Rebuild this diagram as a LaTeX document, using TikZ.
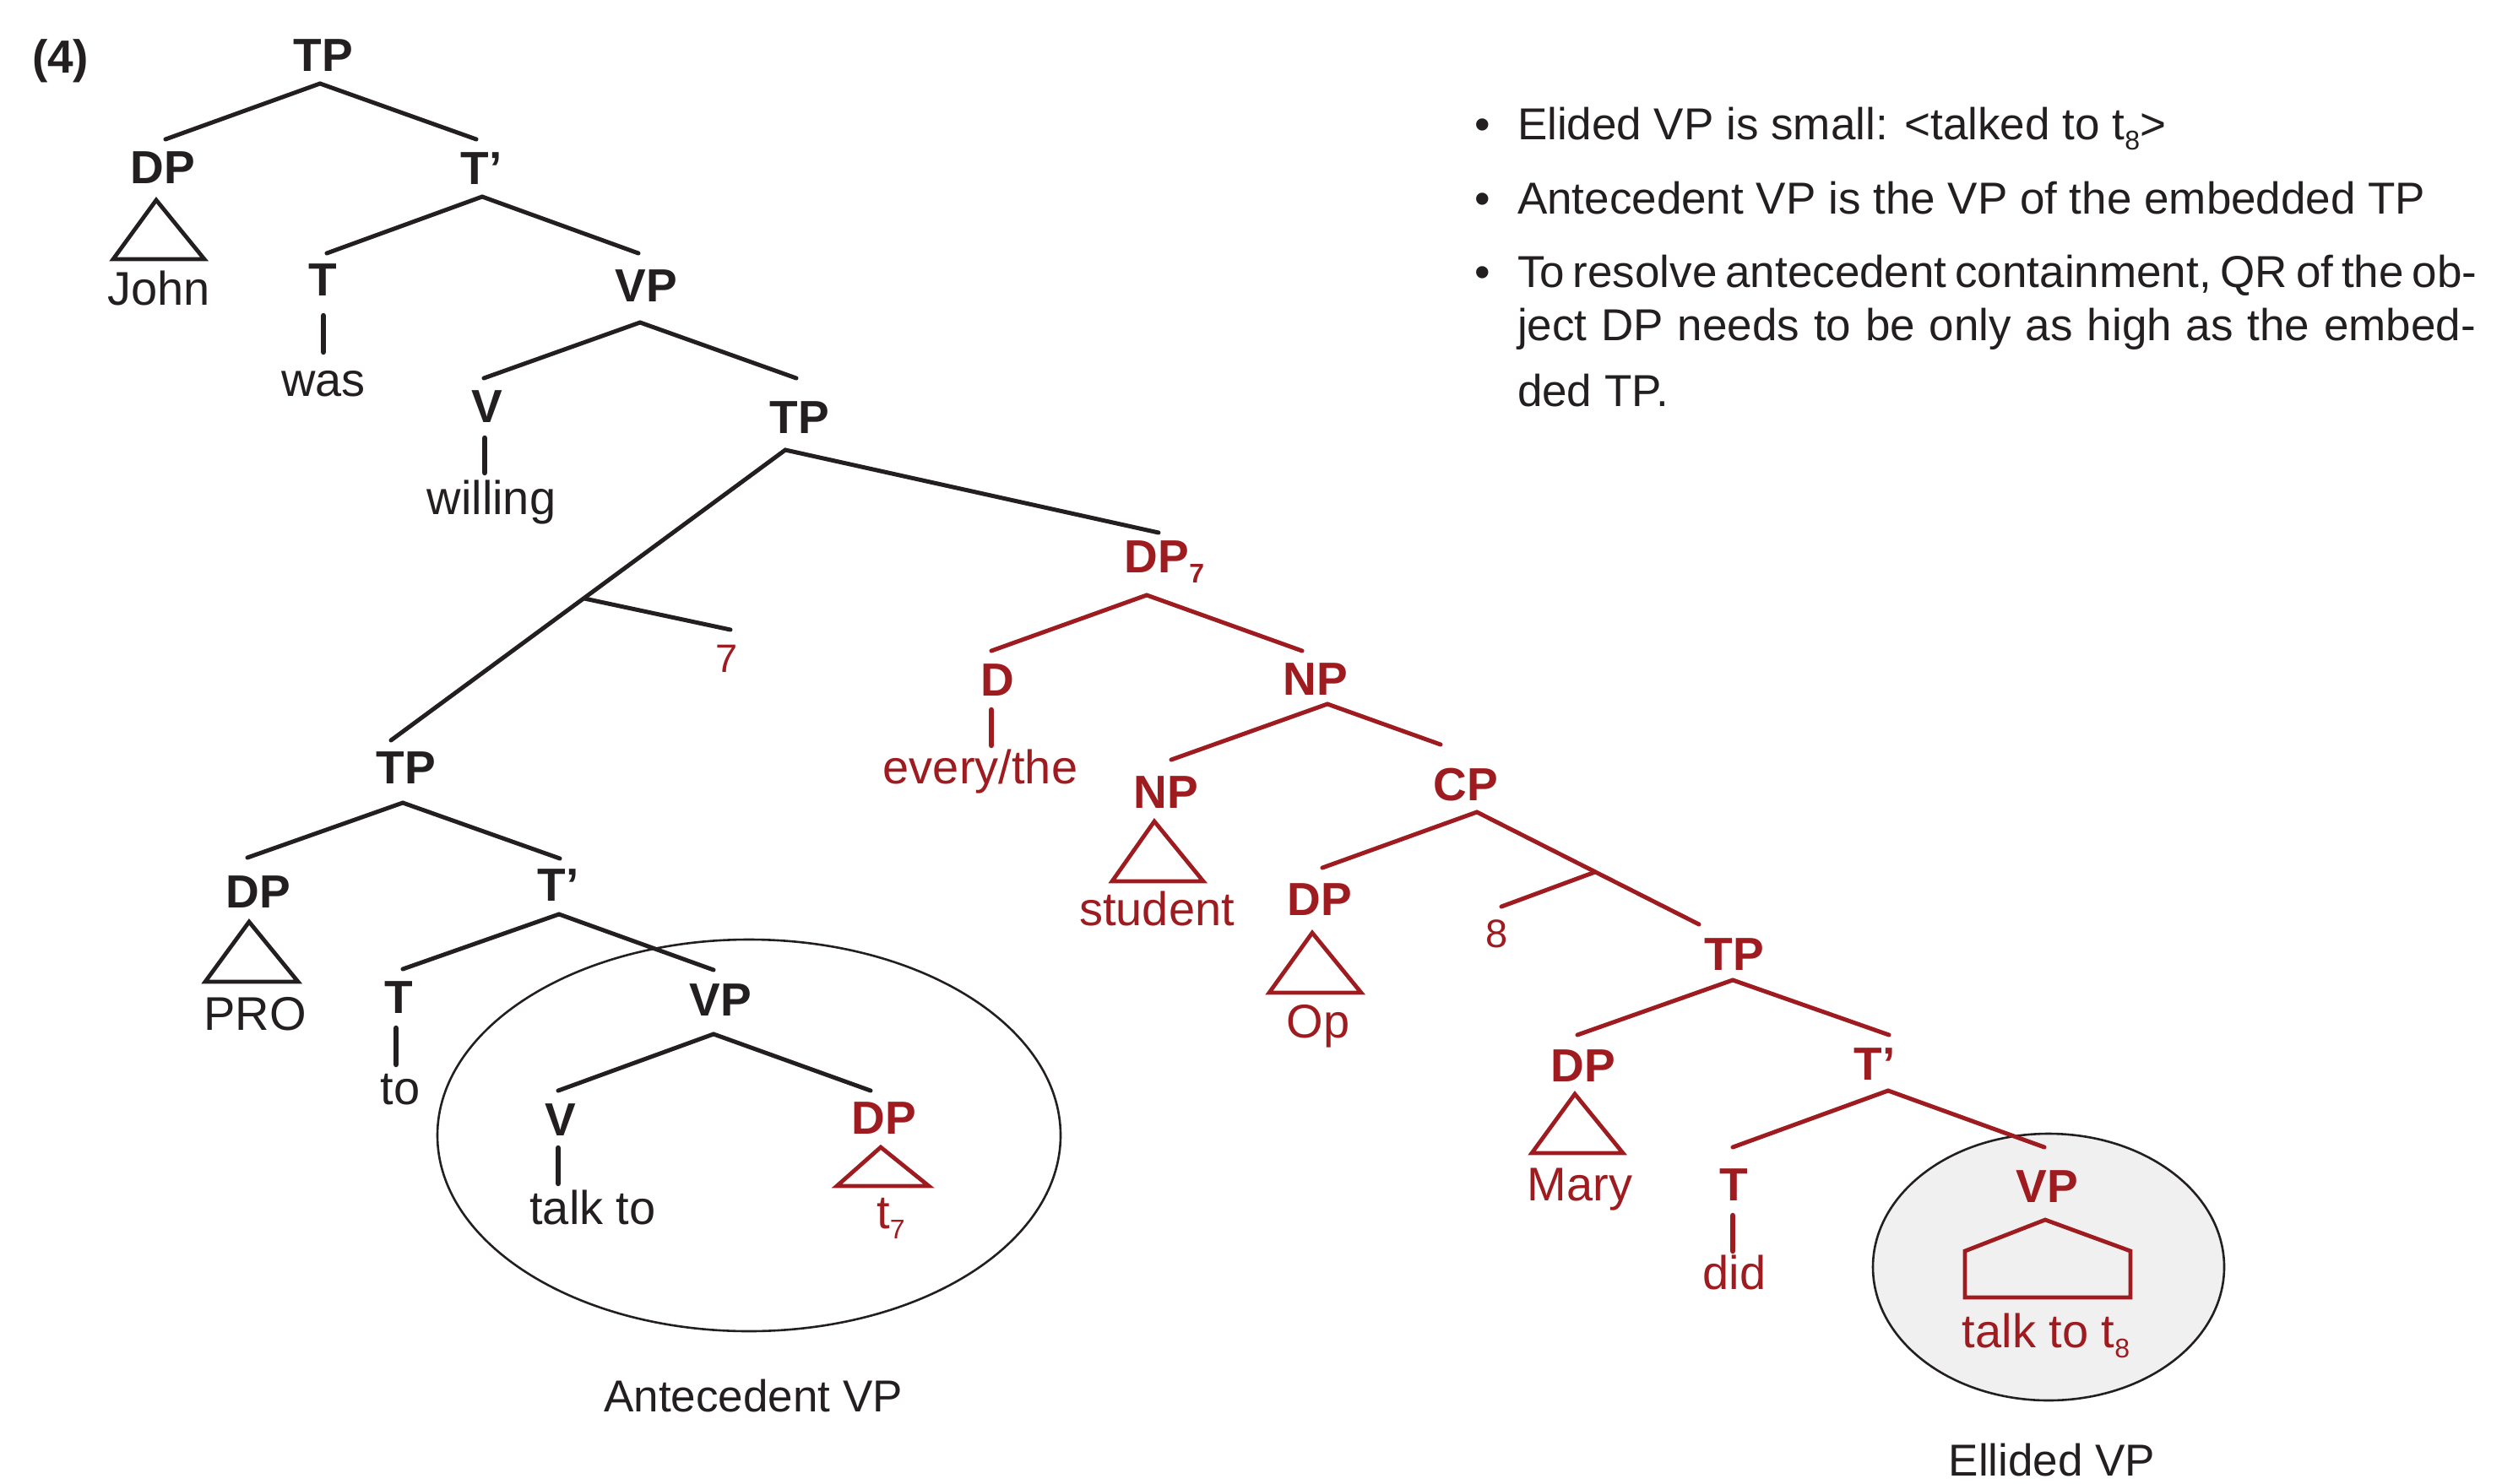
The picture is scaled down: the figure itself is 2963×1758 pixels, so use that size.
\documentclass[tikz,border=0pt]{standalone}
\usepackage{fontspec}
\setmainfont{Liberation Sans}
\definecolor{ink}{RGB}{35,31,32}
\definecolor{dred}{RGB}{158,27,32}
\definecolor{egray}{RGB}{240,240,240}
\newcommand{\bsz}{\fontsize{55}{66}\selectfont\bfseries}
\newcommand{\rsz}{\fontsize{56}{67}\selectfont}
\newcommand{\tsz}{\fontsize{53}{64}\selectfont}
\newcommand{\nsz}{\fontsize{47}{56}\selectfont}
\newcommand{\subsc}[1]{\raisebox{-12pt}{\fontsize{32}{34}\selectfont #1}}
\begin{document}
\begin{tikzpicture}[x=1pt,y=-1pt,
  catlbl/.style={inner sep=0pt, outer sep=0pt, anchor=base, font=\bsz, text=ink},
  rcatlbl/.style={catlbl, text=dred},
  wordlbl/.style={inner sep=0pt, outer sep=0pt, anchor=base, font=\rsz, text=ink},
  rwordlbl/.style={wordlbl, text=dred},
  numlbl/.style={inner sep=0pt, outer sep=0pt, anchor=base, font=\nsz, text=dred},
  bullettxt/.style={inner sep=0pt, outer sep=0pt, anchor=base west, font=\tsz, text=ink},
  caption/.style={inner sep=0pt, outer sep=0pt, anchor=base, font=\tsz, text=ink},
  branch/.style={line width=5pt, line cap=round, draw=ink},
  rbranch/.style={branch, draw=dred},
  vbar/.style={branch, line width=6.5pt},
  rvbar/.style={vbar, draw=dred},
  roof/.style={line width=4.8pt, line join=miter, draw=ink},
  rroof/.style={roof, draw=dred},
  circ/.style={line width=2.6pt, draw=ink}
]
\useasboundingbox (0,0) rectangle (2963,1758);

% ellipses
\draw[circ, fill=egray] (2426,1501) ellipse [x radius=208pt, y radius=158pt];
\draw[circ] (887,1345) ellipse [x radius=369pt, y radius=232pt];

% example number
\node[catlbl, anchor=base west] (exnum) at (38,87) {(4)};

% ---------- black upper tree ----------
\node[catlbl] (tp1) at (383,85) {TP};
\node[catlbl] (dp1) at (193,217) {DP};
\node[catlbl] (tb1) at (570,218) {T’};
\node[wordlbl] (john) at (188,361) {John};
\node[catlbl] (t1) at (382,350) {T};
\node[wordlbl] (was) at (383,469) {was};
\node[catlbl] (vp1) at (765,357) {VP};
\node[catlbl] (v1) at (577,500) {V};
\node[wordlbl] (willing) at (582,609) {willing};
\node[catlbl] (tp2) at (947,513) {TP};

\coordinate (tp1b) at (379,99);
\coordinate (dp1t) at (196,165);
\coordinate (tb1t) at (564,165);
\coordinate (tb1b) at (571,233);
\coordinate (t1t) at (387,300);
\coordinate (vp1t) at (756,300);
\coordinate (t1b) at (383,374);
\coordinate (wast) at (383,417);
\coordinate (vp1b) at (758,382);
\coordinate (v1t) at (573,448);
\coordinate (tp2t) at (943,448);
\coordinate (v1b) at (574,519);
\coordinate (willingt) at (574,560);

\draw[branch] (dp1t) -- (tp1b) -- (tb1t);
\draw[branch] (t1t) -- (tb1b) -- (vp1t);
\draw[vbar] (t1b) -- (wast);
\draw[branch] (v1t) -- (vp1b) -- (tp2t);
\draw[vbar] (v1b) -- (willingt);
\draw[roof] (185,237) -- (134,307) -- (242,307) -- cycle;

% ---------- TP2 and adjunction ----------
\node[rcatlbl] (dp7) at (1379,678) {DP\subsc{7}};
\node[catlbl] (tp3) at (481,928) {TP};
\node[numlbl] (lab7) at (861,796) {7};

\coordinate (tp2b) at (930,533);
\coordinate (dp7t) at (1372,631);
\coordinate (tp3t) at (463,877);
\coordinate (bp7) at (692,709);
\coordinate (lab7t) at (865,746);
\draw[branch] (tp3t) -- (tp2b) -- (dp7t);
\draw[branch] (bp7) -- (lab7t);

% ---------- red DP7 subtree ----------
\node[rcatlbl] (d) at (1181,824) {D};
\node[rwordlbl] (every) at (1161,928) {every/the};
\node[rcatlbl] (np1) at (1558,823) {NP};
\node[rcatlbl] (np2) at (1381,957) {NP};
\node[rwordlbl] (student) at (1370,1096) {student};
\node[rcatlbl] (cp) at (1736,948) {CP};
\node[rcatlbl] (dpop) at (1563,1084) {DP};
\node[rwordlbl] (op) at (1561,1229) {Op};
\node[numlbl] (lab8) at (1773,1122) {8};
\node[rcatlbl] (tp4) at (2054,1149) {TP};
\node[rcatlbl] (dpm) at (1875,1281) {DP};
\node[rwordlbl] (mary) at (1871,1422) {Mary};
\node[rcatlbl] (tb3) at (2220,1279) {T’};
\node[rcatlbl] (t3) at (2053,1422) {T};
\node[rwordlbl] (did) at (2054,1527) {did};
\node[rcatlbl] (vp3) at (2424,1424) {VP};
\node[rwordlbl] (talkto8) at (2423,1596) {talk to t\subsc{8}};

\coordinate (dp7b) at (1358,705);
\coordinate (dt) at (1174,771);
\coordinate (np1t) at (1542,771);
\coordinate (db) at (1174,841);
\coordinate (everyt) at (1174,883);
\coordinate (np1b) at (1572,834);
\coordinate (np2t) at (1387,900);
\coordinate (cpt) at (1706,882);
\coordinate (cpb) at (1749,962);
\coordinate (dpopt) at (1566,1028);
\coordinate (tp4t) at (2012,1095);
\coordinate (bp8) at (1889,1033);
\coordinate (lab8t) at (1778,1074);
\coordinate (tp4b) at (2052,1161);
\coordinate (dpmt) at (1868,1226);
\coordinate (tb3t) at (2237,1226);
\coordinate (tb3b) at (2236,1292);
\coordinate (t3t) at (2052,1359);
\coordinate (vp3t) at (2421,1359);
\coordinate (t3b) at (2052,1440);
\coordinate (didt) at (2052,1482);

\draw[rbranch] (dt) -- (dp7b) -- (np1t);
\draw[rvbar] (db) -- (everyt);
\draw[rbranch] (np2t) -- (np1b) -- (cpt);
\draw[rbranch] (dpopt) -- (cpb) -- (tp4t);
\draw[rbranch] (bp8) -- (lab8t);
\draw[rbranch] (dpmt) -- (tp4b) -- (tb3t);
\draw[rbranch] (t3t) -- (tb3b) -- (vp3t);
\draw[rvbar] (t3b) -- (didt);
\draw[rroof] (1367,973) -- (1317,1044) -- (1425,1044) -- cycle;
\draw[rroof] (1554,1105) -- (1503,1176) -- (1612,1176) -- cycle;
\draw[rroof] (1865,1296) -- (1814,1366) -- (1922,1366) -- cycle;
\draw[rroof] (2422,1445) -- (2327,1482) -- (2327,1537) -- (2523,1537) -- (2523,1482) -- cycle;

% ---------- lower left TP ----------
\node[catlbl] (dp2) at (306,1075) {DP};
\node[wordlbl] (pro) at (302,1220) {PRO};
\node[catlbl] (tb2) at (661,1067) {T’};
\node[catlbl] (t2) at (472,1200) {T};
\node[wordlbl] (to) at (474,1308) {to};
\node[catlbl] (vp2) at (853,1203) {VP};
\node[catlbl] (v2) at (664,1345) {V};
\node[wordlbl] (talkto) at (702,1450) {talk to};
\node[rcatlbl] (dp3) at (1047,1343) {DP};
\node[rwordlbl] (t7) at (1055,1455) {t\subsc{7}};

\coordinate (tp3b) at (477,951);
\coordinate (dp2t) at (293,1016);
\coordinate (tb2t) at (663,1017);
\coordinate (tb2b) at (662,1083);
\coordinate (t2t) at (477,1148);
\coordinate (vp2t) at (845,1149);
\coordinate (t2b) at (469,1218);
\coordinate (tot) at (469,1261);
\coordinate (vp2b) at (845,1225);
\coordinate (v2t) at (661,1292);
\coordinate (dp3t) at (1031,1292);
\coordinate (v2b) at (661,1360);
\coordinate (talktot) at (661,1402);

\draw[branch] (dp2t) -- (tp3b) -- (tb2t);
\draw[branch] (t2t) -- (tb2b) -- (vp2t);
\draw[vbar] (t2b) -- (tot);
\draw[branch] (v2t) -- (vp2b) -- (dp3t);
\draw[vbar] (v2b) -- (talktot);
\draw[roof] (295,1092) -- (243,1163) -- (353,1163) -- cycle;
\draw[rroof] (1043,1359) -- (991,1405) -- (1100,1405) -- cycle;

% ---------- captions ----------
\node[caption] (antec) at (892,1672) {Antecedent VP};
\node[caption] (ellided) at (2430,1748) {Ellided VP};

% ---------- bullet list ----------
\node[bullettxt, anchor=base] (b1) at (1756,165) {•};
\node[bullettxt, anchor=base] (b2) at (1756,253) {•};
\node[bullettxt, anchor=base] (b3) at (1756,340) {•};
\node[bullettxt] (l1) at (1797,165) {Elided VP is small: <talked to t\subsc{8}>};
\node[bullettxt] (l2) at (1797,253) {Antecedent VP is the VP of the embedded TP};
\node[bullettxt] (l3) at (1797,340) {\makebox[1135pt][s]{To resolve antecedent containment, QR of the ob-}};
\node[bullettxt] (l4) at (1797,403) {\makebox[1135pt][s]{ject DP needs to be only as high as the embed-}};
\node[bullettxt] (l5) at (1797,481) {ded TP.};
\end{tikzpicture}
\end{document}
